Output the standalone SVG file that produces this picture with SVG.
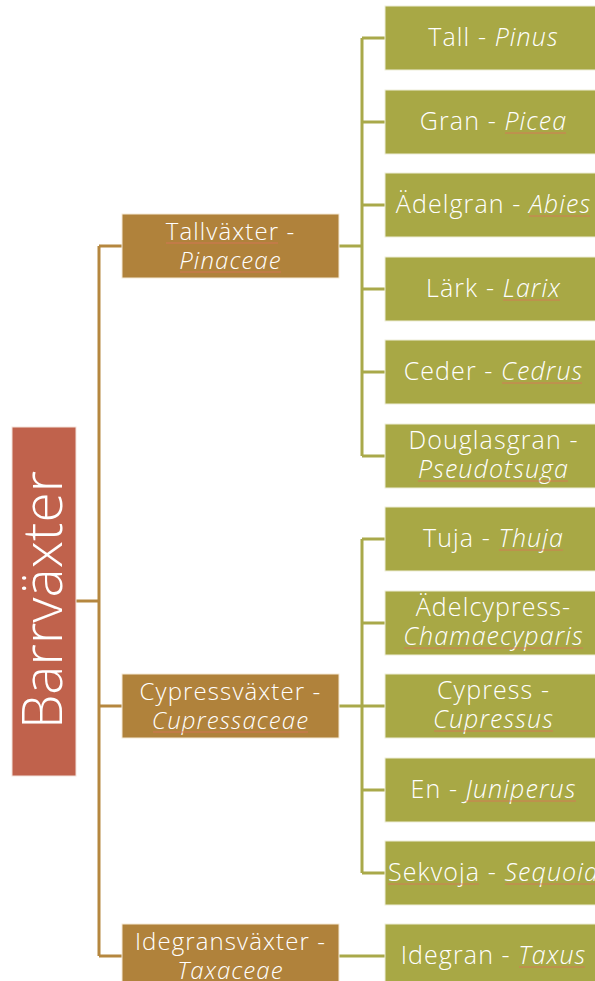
<svg xmlns="http://www.w3.org/2000/svg" width="595" height="981" viewBox="0 0 595 981">
<style>
text{font-family:"Open Sans",Lato,"Liberation Sans",sans-serif;font-weight:300;fill:#ffffff;text-anchor:middle;letter-spacing:1.1px}
.root{fill:#c0624c;stroke:#f3e3dc;stroke-width:1}
.mid{fill:#b0823b;stroke:#f5ead6;stroke-width:1}
.leaf{fill:#a8a845;stroke:#eeeed8;stroke-width:1}
.c1{stroke:#b5873f;stroke-width:3;fill:none}
.c2{stroke:#a9a94a;stroke-width:3;fill:none}
.t{font-size:25px}
.tm{font-size:24px}
.i{font-style:italic}
.sq{stroke:#d9735a;stroke-width:1;fill:none;stroke-opacity:0.85}
</style>
<rect width="595" height="981" fill="#ffffff"/>
<g id="connectors">
<path class="c1" d="M76 601H99M99 246V956M99 246H122M99 706H122M99 956H122"/>
<path class="c2" d="M339 246H362M362 38V456M362 38H385M362 122H385M362 205H385M362 289H385M362 372H385M362 456H385"/>
<path class="c2" d="M339 706H362M362 539V873M362 539H385M362 623H385M362 706H385M362 790H385M362 873H385"/>
<path class="c2" d="M339 956H385"/>
</g>
<g id="root"><rect class="root" x="12" y="427" width="64" height="349"/><text transform="translate(62 600) rotate(-90)" style="font-size:55px;letter-spacing:0">Barrväxter</text></g>
<g id="tallvaxter"><rect class="mid" x="122" y="214" width="217" height="64"/><text class="tm" x="230.5" y="240">Tallväxter -</text><text class="tm" x="230.5" y="269"><tspan class="i">Pinaceae</tspan></text></g>
<g id="cypressvaxter"><rect class="mid" x="122" y="674" width="217" height="64"/><text class="tm" x="230.5" y="700">Cypressväxter -</text><text class="tm" x="230.5" y="729"><tspan class="i">Cupressaceae</tspan></text></g>
<g id="idegransvaxter"><rect class="mid" x="122" y="924" width="217" height="64"/><text class="tm" x="230.5" y="950">Idegransväxter -</text><text class="tm" x="230.5" y="979"><tspan class="i">Taxaceae</tspan></text></g>
<g id="tall"><rect class="leaf" x="385" y="6" width="217" height="64"/><text class="t" x="493.5" y="46">Tall - <tspan class="i">Pinus</tspan></text></g>
<g id="gran"><rect class="leaf" x="385" y="90" width="217" height="64"/><text class="t" x="493.5" y="130">Gran - <tspan class="i">Picea</tspan></text></g>
<g id="adelgran"><rect class="leaf" x="385" y="173" width="217" height="64"/><text class="t" x="493.5" y="213">Ädelgran - <tspan class="i">Abies</tspan></text></g>
<g id="lark"><rect class="leaf" x="385" y="257" width="217" height="64"/><text class="t" x="493.5" y="297">Lärk - <tspan class="i">Larix</tspan></text></g>
<g id="ceder"><rect class="leaf" x="385" y="340" width="217" height="64"/><text class="t" x="493.5" y="380">Ceder - <tspan class="i">Cedrus</tspan></text></g>
<g id="douglasgran"><rect class="leaf" x="385" y="424" width="217" height="64"/><text class="t" x="493.5" y="449">Douglasgran -</text><text class="t" x="493.5" y="478"><tspan class="i">Pseudotsuga</tspan></text></g>
<g id="tuja"><rect class="leaf" x="385" y="507" width="217" height="64"/><text class="t" x="493.5" y="547">Tuja - <tspan class="i">Thuja</tspan></text></g>
<g id="adelcypress"><rect class="leaf" x="385" y="591" width="217" height="64"/><text class="t" x="493.5" y="616">Ädelcypress-</text><text class="t" x="493.5" y="645"><tspan class="i">Chamaecyparis</tspan></text></g>
<g id="cypress"><rect class="leaf" x="385" y="674" width="217" height="64"/><text class="t" x="493.5" y="699">Cypress -</text><text class="t" x="493.5" y="728"><tspan class="i">Cupressus</tspan></text></g>
<g id="en"><rect class="leaf" x="385" y="758" width="217" height="64"/><text class="t" x="493.5" y="798">En - <tspan class="i">Juniperus</tspan></text></g>
<g id="sekvoja"><rect class="leaf" x="385" y="841" width="217" height="64"/><text class="t" x="493.5" y="881">Sekvoja - <tspan class="i">Sequoia</tspan></text></g>
<g id="idegran"><rect class="leaf" x="385" y="924" width="217" height="64"/><text class="t" x="493.5" y="964">Idegran - <tspan class="i">Taxus</tspan></text></g>
<g id="spellmarks" class="sq">
<path d="M166 243H278M180 272H281M505 133H566M529 216H590M503 300H560M502 383H582M418 481H568M499 550H563M404 648H583M434 731H553M466 801H576M388 884H479M505 884H595M153 732H308M519 967H585"/>
</g>
</svg>
